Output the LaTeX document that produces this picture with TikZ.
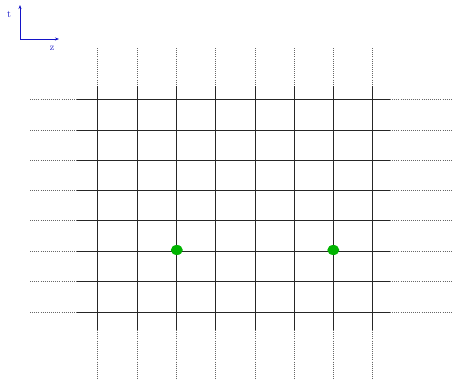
\documentclass[tikz,border=0pt]{standalone}
\usetikzlibrary{arrows.meta,shapes.geometric}
\definecolor{axisblue}{RGB}{20,20,200}
\definecolor{dotgreen}{RGB}{0,180,0}
\tikzset{
  gridline/.style={line width=0.9pt, black!85},
  dotline/.style={line width=0.7pt, black!60, dash pattern=on 0.9pt off 1.2pt},
  axis/.style={line width=0.8pt, axisblue, -{Stealth[length=4pt,width=3pt]}},
  axislabel/.style={text=axisblue, font=\normalsize, inner sep=0pt},
  event/.style={ellipse, fill=dotgreen, minimum width=12pt, minimum height=10pt, inner sep=0pt, draw=none}
}
\begin{document}
\begin{tikzpicture}[x=1pt,y=-1pt]
\useasboundingbox (0,0) rectangle (454,380);
% axes
\coordinate (O) at (20,39);
\coordinate (T) at (20,5);
\coordinate (Z) at (59,39);
\draw[axis] (O) -- (T);
\draw[axis] (O) -- (Z);
\node[axislabel] (tl) at (9,14) {t};
\node[axislabel] (zl) at (52,48) {z};
% vertical lines
\foreach \x [count=\i] in {97.5,137.7,176.8,215.8,255,294,333.3,372.6} {
  \coordinate (vt\i) at (\x,48);
  \coordinate (va\i) at (\x,86);
  \coordinate (vb\i) at (\x,330);
  \coordinate (ve\i) at (\x,380);
  \draw[dotline] (vt\i) -- (va\i);
  \draw[gridline] (va\i) -- (vb\i);
  \draw[dotline] (vb\i) -- (ve\i);
}
% horizontal lines
\foreach \y [count=\j] in {99.5,130,160.3,190.5,220.7,251,281.5,312} {
  \coordinate (hl\j) at (30,\y);
  \coordinate (ha\j) at (77,\y);
  \coordinate (hb\j) at (390,\y);
  \coordinate (he\j) at (452,\y);
  \draw[dotline] (hl\j) -- (ha\j);
  \draw[gridline] (ha\j) -- (hb\j);
  \draw[dotline] (hb\j) -- (he\j);
}
% events
\node[event] (e1) at (176.8,250) {};
\node[event] (e2) at (333.3,250) {};
\end{tikzpicture}
\end{document}
